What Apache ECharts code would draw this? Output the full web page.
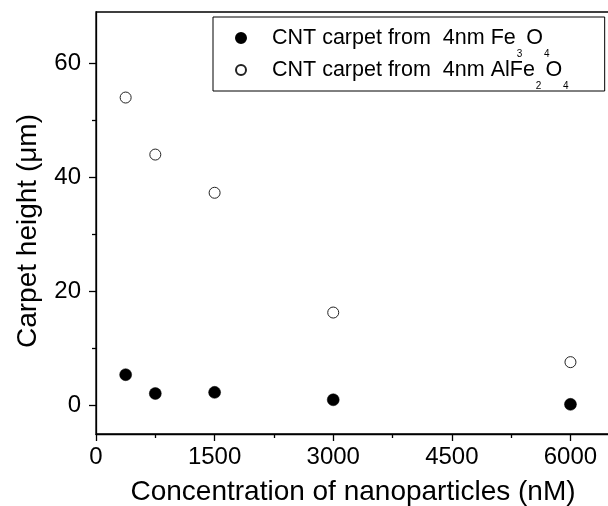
<!DOCTYPE html>
<html><head><meta charset="utf-8">
<script src="https://cdn.jsdelivr.net/npm/echarts@6/dist/echarts.min.js"></script>
<style>html,body{margin:0;padding:0;background:#fff}#c{width:608px;height:506px}</style>
</head><body><div id="c"></div>
<script>
const xValues = [375, 750, 1500, 3000, 6000];
const feValues = [5.4, 2.1, 2.3, 1.0, 0.2];
const alfeValues = [54.0, 44.0, 37.3, 16.3, 7.6];
const xTicks = [0, 1500, 3000, 4500, 6000];
const xMinorTicks = [750, 2250, 3750, 5250];
const yTicks = [0, 20, 40, 60];
const yMinorTicks = [10, 30, 50];
const seriesNames = ['CNT carpet from 4nm Fe3O4', 'CNT carpet from 4nm AlFe2O4'];

const font = 'Liberation Sans, Arial, sans-serif';
const chart = echarts.init(document.getElementById('c'), null, {renderer: 'canvas'});
const axisLine = {show: true, onZero: false, lineStyle: {color: '#000', width: 1.3}};
const plain = v => String(v);
chart.setOption({
  animation: false,
  backgroundColor: '#fff',
  grid: {left: 96, top: 12, right: -2, bottom: 72, show: true, borderColor: '#000', borderWidth: 1.3,
         containLabel: false, outerBoundsMode: 'none'},
  legend: {
    orient: 'vertical', left: 213, top: 17,
    padding: [0, 34, 0, 22], itemGap: -10, itemWidth: 10, itemHeight: 10,
    borderColor: '#000', borderWidth: 1, backgroundColor: '#fff',
    data: seriesNames,
    formatter: function (name) {
      return name === seriesNames[0]
        ? '{a|CNT carpet from  4nm Fe}{s|3}{t|O}{s|4}'
        : '{a|CNT carpet from  4nm AlFe}{s|2}{t|O}{s|4}';
    },
    textStyle: {
      rich: {
        a: {fontFamily: font, fontSize: 21.5, color: '#000', lineHeight: 24, padding: [0, 0, 0, 21]},
        t: {fontFamily: font, fontSize: 21.5, color: '#000', lineHeight: 24, padding: [0, 0, 0, 2]},
        s: {fontFamily: font, fontSize: 10, color: '#000', lineHeight: 10, padding: [32, 2, 0, 1]}
      }
    }
  },
  xAxis: [{
    type: 'value', min: 0, max: 6500,
    name: 'Concentration of nanoparticles (nM)', nameLocation: 'middle', nameGap: 44,
    nameTextStyle: {fontFamily: font, fontSize: 28, color: '#000'},
    axisLine: axisLine,
    axisTick: {show: true, inside: false, length: 7, customValues: xTicks, lineStyle: {color: '#000', width: 1.3}},
    axisLabel: {customValues: xTicks, formatter: plain, fontFamily: font, fontSize: 24, color: '#000', margin: 11},
    splitLine: {show: false}
  }, {
    type: 'value', min: 0, max: 6500, position: 'bottom',
    axisLine: {show: false, onZero: false},
    axisTick: {show: true, inside: false, length: 4, customValues: xMinorTicks, lineStyle: {color: '#000', width: 1.3}},
    axisLabel: {show: false}, splitLine: {show: false}
  }],
  yAxis: [{
    type: 'value', min: -5, max: 69,
    name: 'Carpet height (\u03bcm)', nameLocation: 'middle', nameGap: 54,
    nameTextStyle: {fontFamily: font, fontSize: 28, color: '#000', padding: [0, 16, 0, 0]},
    axisLine: axisLine,
    axisTick: {show: true, inside: false, length: 7, customValues: yTicks, lineStyle: {color: '#000', width: 1.3}},
    axisLabel: {customValues: yTicks, formatter: plain, fontFamily: font, fontSize: 24, color: '#000', margin: 15},
    splitLine: {show: false}
  }, {
    type: 'value', min: -5, max: 69, position: 'left',
    axisLine: {show: false, onZero: false},
    axisTick: {show: true, inside: false, length: 4, customValues: yMinorTicks, lineStyle: {color: '#000', width: 1.3}},
    axisLabel: {show: false}, splitLine: {show: false}
  }],
  series: [{
    name: seriesNames[0], type: 'scatter', symbol: 'circle', symbolSize: 12,
    itemStyle: {color: '#000', borderColor: '#000', borderWidth: 0.5, opacity: 1},
    data: xValues.map((x, i) => [x, feValues[i]])
  }, {
    name: seriesNames[1], type: 'scatter', symbol: 'circle', symbolSize: 11,
    itemStyle: {color: '#fff', borderColor: '#222', borderWidth: 1, opacity: 1},
    data: xValues.map((x, i) => [x, alfeValues[i]])
  }]
});
</script></body></html>
